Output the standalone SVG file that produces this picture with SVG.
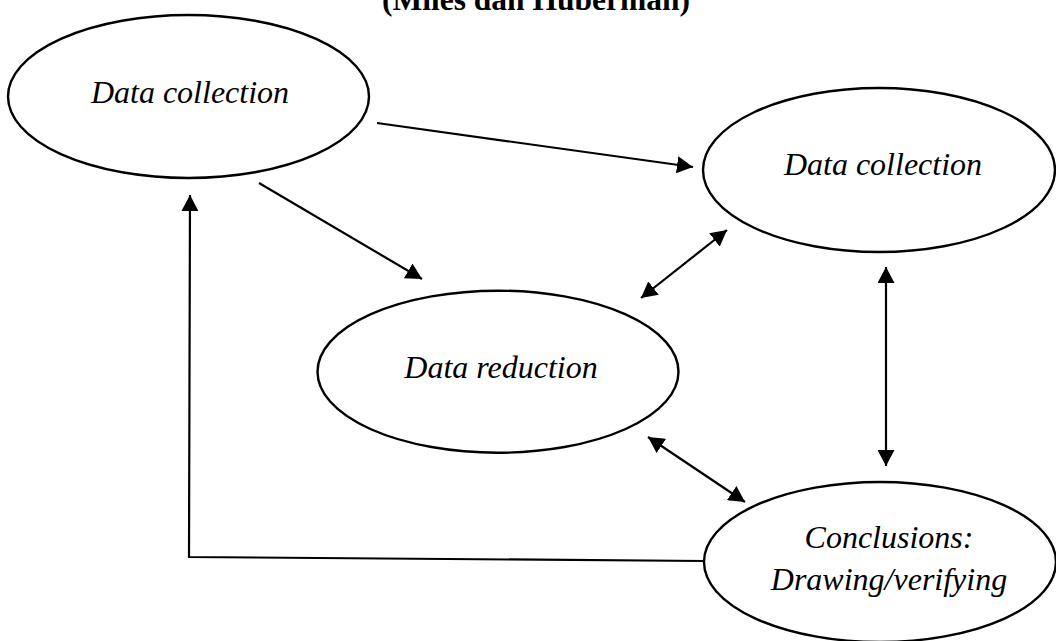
<svg xmlns="http://www.w3.org/2000/svg" width="1056" height="641" viewBox="0 0 1056 641">
<style>
.node ellipse{fill:#fff;stroke:#000;stroke-width:2.4}
.lbl{font-family:"Liberation Serif","Times New Roman",serif;font-style:italic;font-size:32px;fill:#000;text-anchor:middle}
.title{font-family:"Liberation Serif","Times New Roman",serif;font-weight:bold;font-size:31.5px;fill:#000;text-anchor:middle}
.conn line,.conn polyline{stroke:#000;stroke-width:2.2;fill:none}
</style>
<defs>
<marker id="ah" markerUnits="userSpaceOnUse" markerWidth="17" markerHeight="17" refX="16" refY="8.5" orient="auto-start-reverse">
<path d="M0,0 L16,8.5 L0,17 z" fill="#000"/>
</marker>
</defs>
<rect width="1056" height="641" fill="#fff"/>
<text class="title" x="536" y="10">(Miles dan Huberman)</text>
<g id="n1" class="node">
<ellipse cx="188.5" cy="96.5" rx="180.5" ry="81.5"/>
<text class="lbl" x="190" y="103">Data collection</text>
</g>
<g id="n2" class="node">
<ellipse cx="879" cy="170" rx="176" ry="82"/>
<text class="lbl" x="883" y="175">Data collection</text>
</g>
<g id="n3" class="node">
<ellipse cx="498" cy="371.7" rx="180.5" ry="81"/>
<text class="lbl" x="501" y="378">Data reduction</text>
</g>
<g id="n4" class="node">
<ellipse cx="880" cy="562" rx="176" ry="80"/>
<text class="lbl" x="889" y="548">Conclusions:</text>
<text class="lbl" x="889" y="590">Drawing/verifying</text>
</g>
<g id="connectors" class="conn">
<line x1="377" y1="123" x2="693" y2="167" marker-end="url(#ah)"/>
<line x1="259" y1="183" x2="422" y2="279" marker-end="url(#ah)"/>
<polyline points="705,561 189,557 190,195" marker-end="url(#ah)"/>
<line x1="641" y1="298" x2="727" y2="230" marker-start="url(#ah)" marker-end="url(#ah)"/>
<line x1="886" y1="267" x2="886" y2="466" marker-start="url(#ah)" marker-end="url(#ah)"/>
<line x1="648" y1="437" x2="745" y2="502" marker-start="url(#ah)" marker-end="url(#ah)"/>
</g>
</svg>
